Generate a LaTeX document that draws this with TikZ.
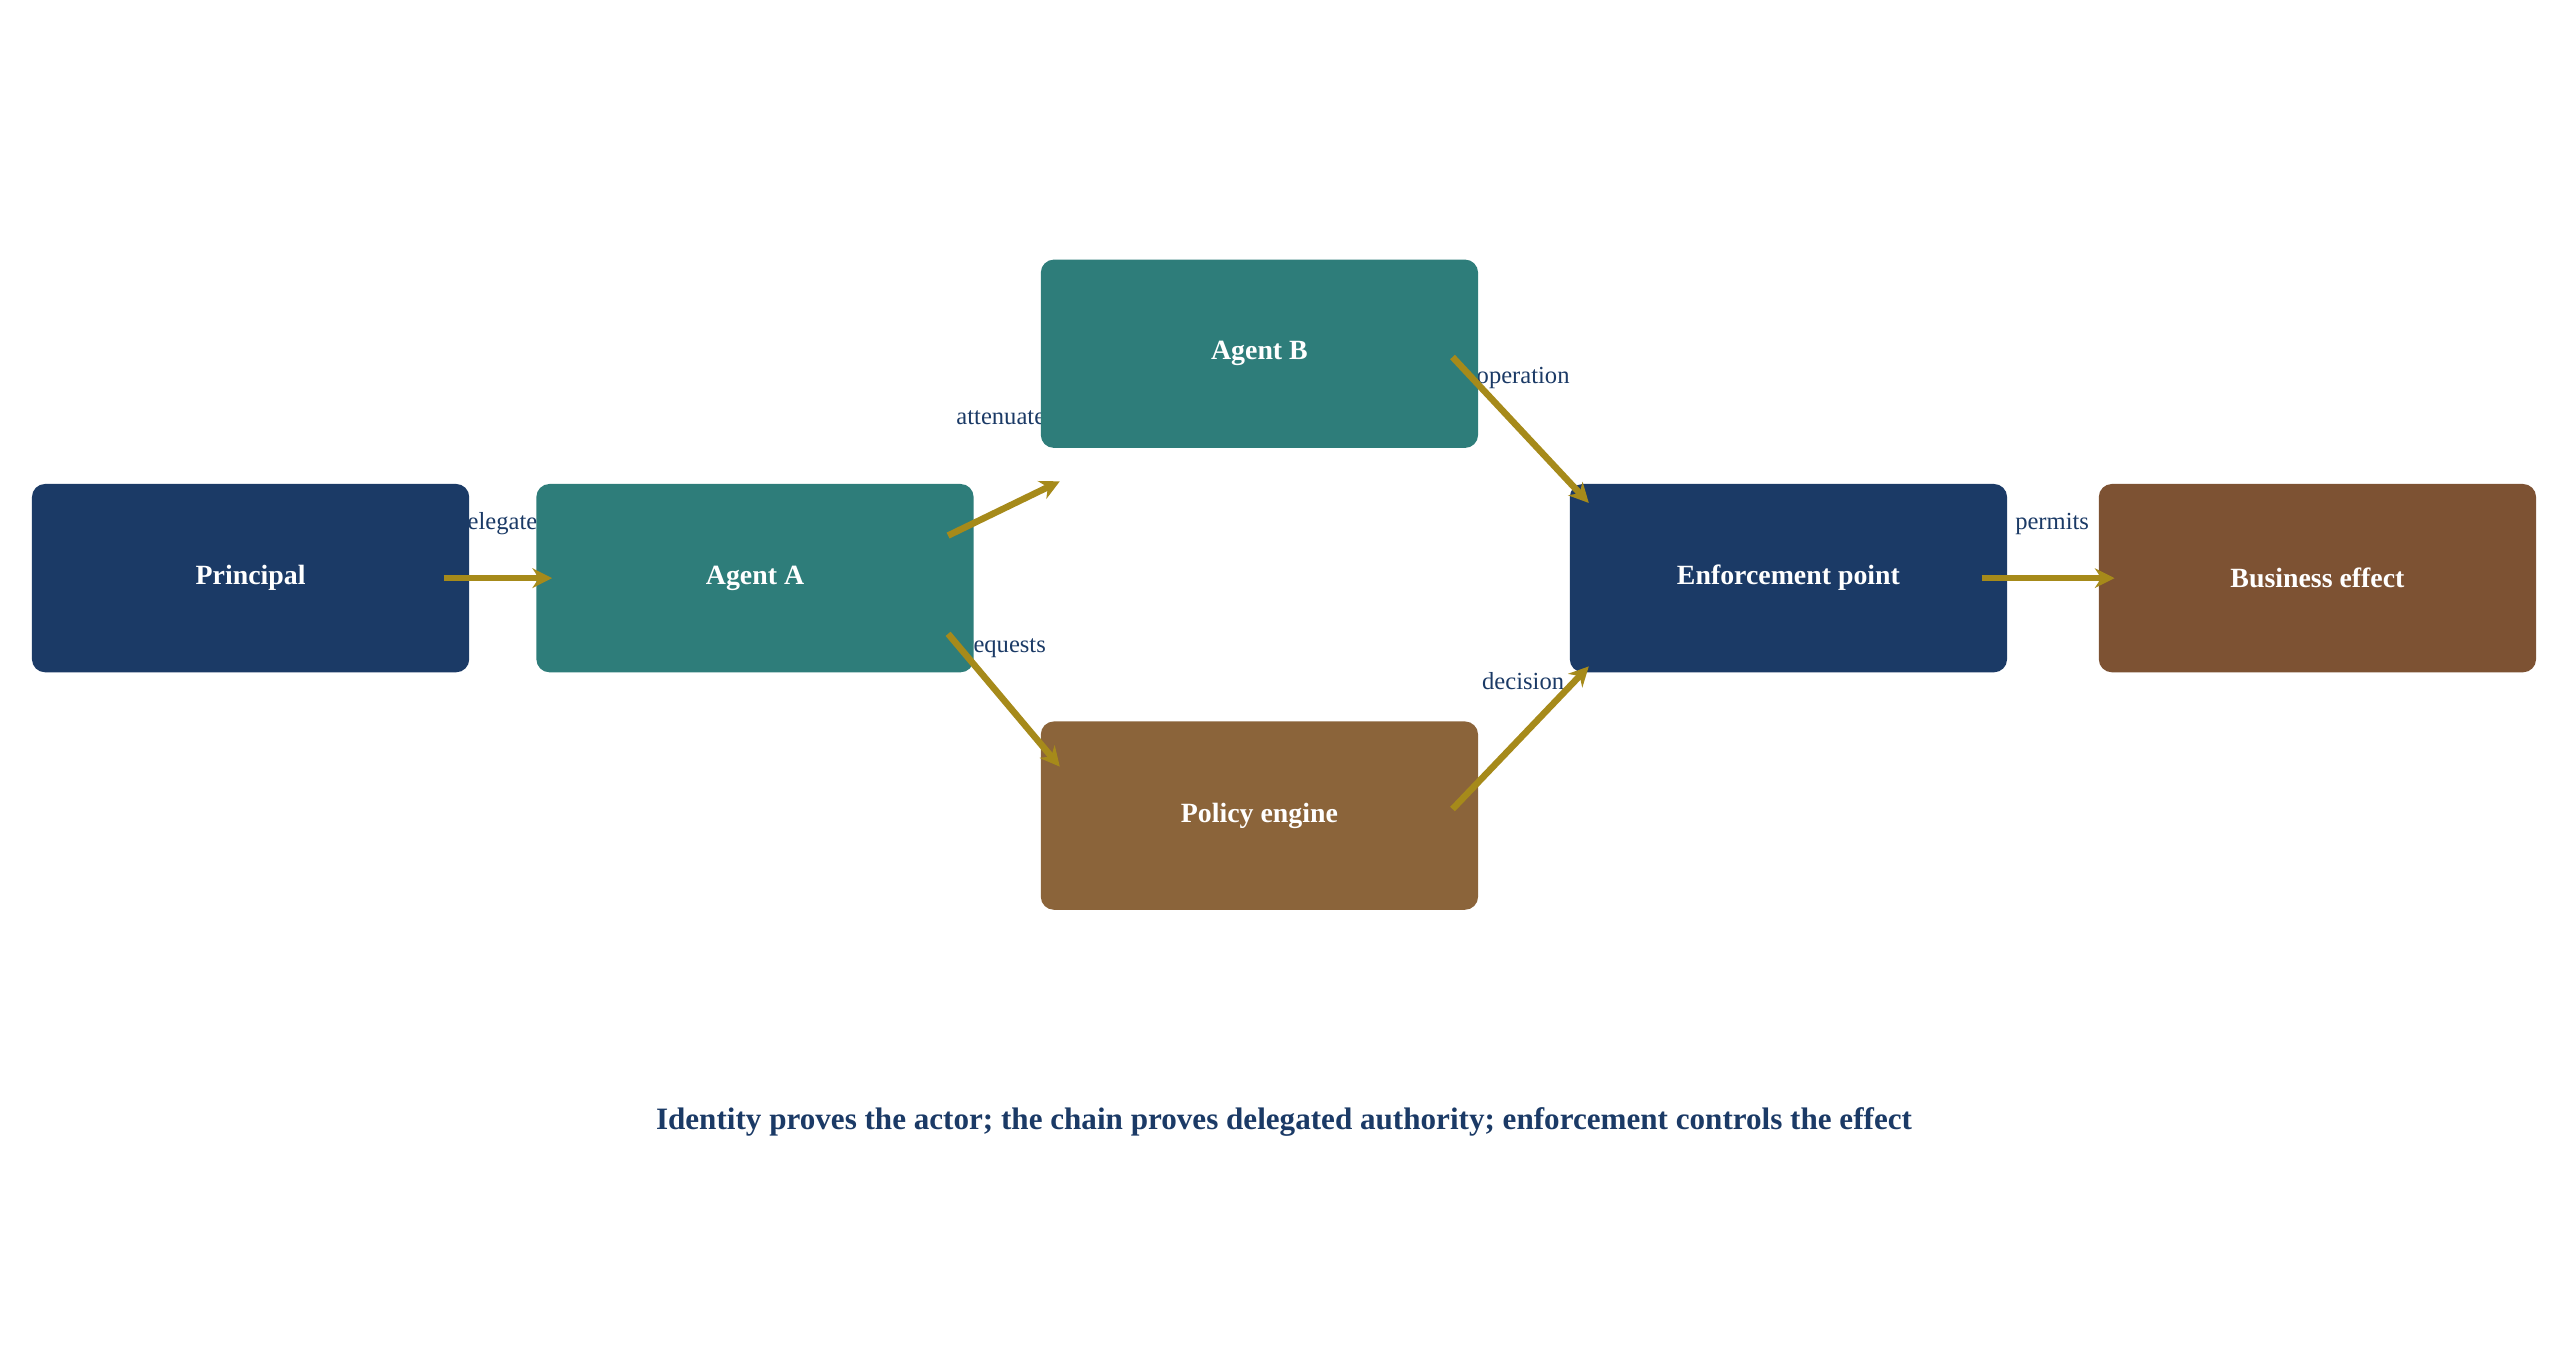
\documentclass[tikz,border=0pt]{standalone}
\usepackage{fontspec}
\setmainfont{Liberation Serif}
\usetikzlibrary{arrows.meta}
\definecolor{navy}{HTML}{1B3A66}
\definecolor{teal}{HTML}{2E7D7A}
\definecolor{pbrown}{HTML}{8B643A}
\definecolor{bbrown}{HTML}{7D5233}
\definecolor{gold}{HTML}{A68A1A}
\begin{document}
\begin{tikzpicture}[x=0.5pt,y=-0.5pt,
 box/.style={rounded corners=4pt,minimum width=133.5pt,minimum height=57.5pt,inner sep=0pt,text=white,font=\fontsize{8.5}{10}\selectfont\bfseries},
 lab/.style={text=navy,font=\fontsize{7.5}{9}\selectfont},
 arr/.style={draw=gold,line width=2pt,-{Stealth[length=6pt,width=6pt]}}]
\useasboundingbox (0,0) rectangle (1568,835);
\node[lab] (l1) at (306,320) {delegates};
\node[lab] (l2) at (614,255) {attenuates};
\node[lab] (l3) at (614,396) {requests};
\node[lab] (l4) at (930,231) {operation};
\node[lab] (l5) at (930,416) {decision};
\node[lab] (l6) at (1253,320) {permits};
\node[box,fill=navy] (pr) at (153,353) {Principal};
\node[box,fill=teal] (aa) at (461,353) {Agent A};
\node[box,fill=teal] (ab) at (769,216) {Agent B};
\node[box,fill=pbrown] (pe) at (769,498) {Policy engine};
\node[box,fill=navy] (en) at (1092,353) {Enforcement point};
\node[box,fill=bbrown] (be) at (1415,353) {Business effect};
\draw[arr] ([xshift=-8pt]pr.east) -- ([xshift=5pt]aa.west);
\draw[arr] ([xshift=-8pt,yshift=13pt]aa.east) -- ([xshift=6pt,yshift=-10pt]ab.south west);
\draw[arr] ([xshift=-8pt,yshift=-17pt]aa.east) -- ([xshift=6pt,yshift=-14pt]pe.north west);
\draw[arr] ([xshift=-8pt,yshift=-1pt]ab.east) -- ([xshift=6pt,yshift=-6pt]en.north west);
\draw[arr] ([xshift=-8pt,yshift=2pt]pe.east) -- ([xshift=6pt,yshift=2pt]en.south west);
\draw[arr] ([xshift=-8pt]en.east) -- ([xshift=5pt]be.west);
\node[text=navy,font=\fontsize{9.5}{11}\selectfont\bfseries] (cap) at (784,685) {Identity proves the actor; the chain proves delegated authority; enforcement controls the effect};
\end{tikzpicture}
\end{document}
